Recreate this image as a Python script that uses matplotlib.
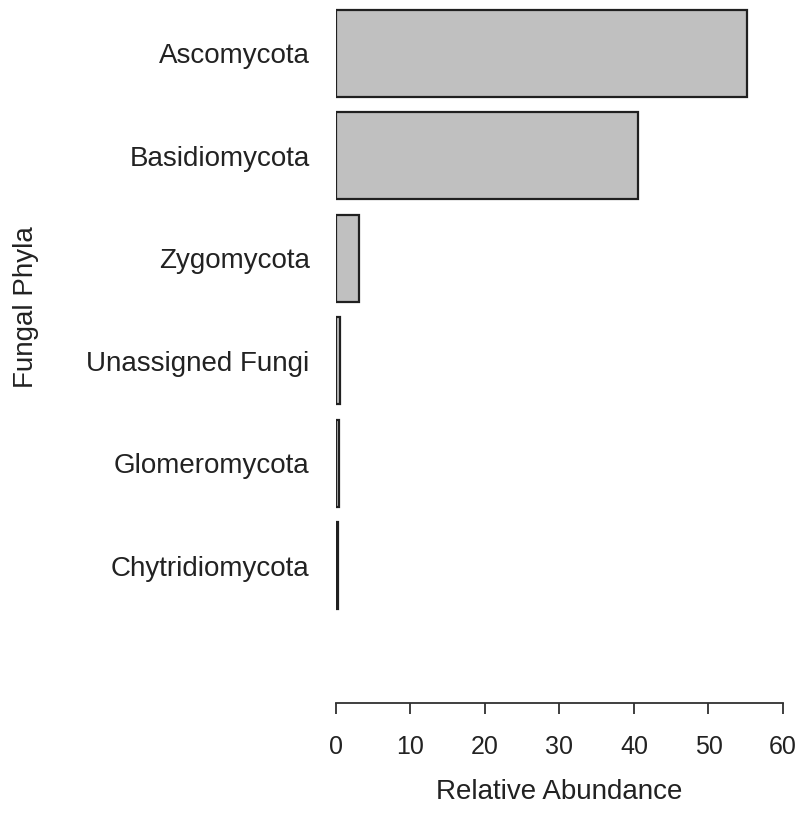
import matplotlib
matplotlib.use("Agg")
import matplotlib.pyplot as plt

# relative abundance per fungal phylum
phyla = ["Ascomycota", "Basidiomycota", "Zygomycota",
         "Unassigned Fungi", "Glomeromycota", "Chytridiomycota"]
abundance = [55.2, 40.5, 3.1, 0.6, 0.4, 0.3]
x_ticks = [0, 10, 20, 30, 40, 50, 60]

plt.rcParams['font.family'] = ['Liberation Sans', 'DejaVu Sans']

fig = plt.figure(figsize=(8.03, 8.19), dpi=100)
ax = fig.add_axes([336 / 803, 1 - 703 / 819, (783 - 336) / 803, 703 / 819])

pos = list(range(len(phyla)))
ax.barh(pos, abundance, height=0.85, color='#c0c0c0',
        edgecolor='#202020', linewidth=1.6)

ax.set_xlim(0, 60)
ax.set_ylim(6.34, -0.52)

# R style axes: only a bottom axis spanning the tick range
for side in ['top', 'right', 'left']:
    ax.spines[side].set_visible(False)
ax.spines['bottom'].set_bounds(0, 60)
ax.spines['bottom'].set_linewidth(1.3)
ax.spines['bottom'].set_color('#303030')

ax.set_xticks(x_ticks)
ax.set_xticklabels([str(t) for t in x_ticks], fontsize=18, color='#222222')
ax.tick_params(axis='x', length=8, width=1.3, color='#303030', pad=15)

ax.set_yticks(pos)
ax.set_yticklabels(phyla, fontsize=20, color='#222222')
ax.tick_params(axis='y', length=0, pad=19)

fig.text(559 / 803, 1 - 792 / 819, "Relative Abundance", fontsize=20,
         color='#222222', ha='center', va='center')
fig.text(26 / 803, 1 - 307 / 819, "Fungal Phyla", fontsize=20,
         color='#222222', ha='center', va='center', rotation=90)

fig.savefig("out.png", dpi=100, facecolor='white')
